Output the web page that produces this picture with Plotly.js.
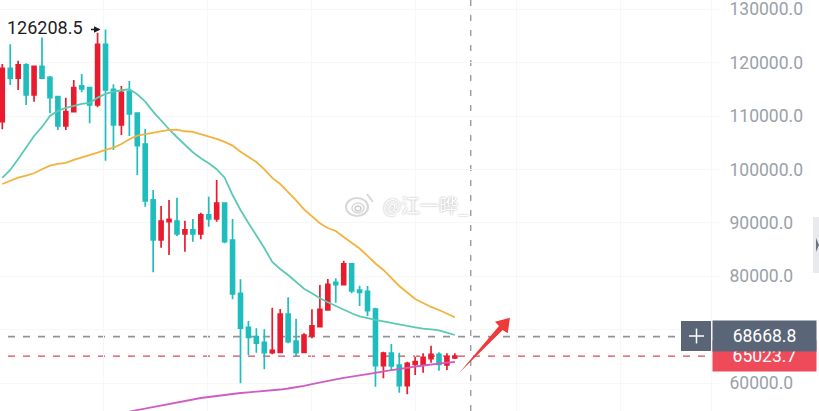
<!DOCTYPE html>
<html>
<head>
<meta charset="utf-8">
<script src="https://cdn.plot.ly/plotly-3.0.1.min.js"></script>
<style>
  html, body { margin: 0; padding: 0; background: #fff; overflow: hidden; }
</style>
</head>
<body>
<div id="chart"></div>
<script>
"use strict";

// Candles
var open = [108940,118940,117070,119560,113940,119320,117260,113620,108140,110810,
  115630,115310,112070,123440,115010,108320,114560,110520,104760,94280,
  86780,90210,90340,87910,88660,87910,91470,90720,93710,86780,
  76800,70430,68670,67620,65680,65750,72920,67870,65750,68800,
  70550,73670,78860,78410,82290,77420,77180,73860,63240,65620,
  63370,59490,63500,63500,64550,65380,63370,64680]
var close = [118940,117070,119560,113940,119320,117070,113440,108140,110810,115310,
  115070,112070,123440,114880,108320,114450,110380,104450,94090,86780,
  90340,90660,87910,88660,87910,91470,90720,93710,86470,76670,
  70250,68560,67440,65680,66120,72920,67740,65680,68990,70680,
  73800,78490,78410,82290,77230,76990,73540,63240,65620,63180,
  59490,63690,63990,64810,65380,63500,64930,65023.7]
var high = [119750,123440,120370,119880,119320,124680,117500,113620,113440,116750,
  117880,115400,125610,126208.5,115950,115630,116570,110630,107570,96150,
  93150,94280,94710,90400,90720,91900,94890,98020,93710,90720,
  79420,71610,70250,70060,74100,73860,76050,72040,69310,73800,
  78360,79480,79610,82910,82420,78220,78170,74100,65860,67300,
  65680,63990,64930,65560,66990,65750,65560,65560]
var low = [107520,115820,114880,112070,112690,116880,110520,107390,107390,110700,
  114450,108640,111640,101640,103640,106450,106260,98960,93020,80730,
  85340,83970,87530,84590,86470,86920,89280,90210,86170,75680,
  59940,65240,65680,62570,65380,65750,67440,64930,65750,68370,
  70550,73540,75040,78300,76800,74420,72550,59310,60880,62430,
  58180,57880,61500,61930,63800,62300,62430,64500]

// Moving averages
var maFast = [98400,99900,101960,104020,106260,107950,110010,110950,111510,111880,
  112260,112440,113440,114130,114560,114820,115010,114070,112690,110810,
  109130,107520,106020,104580,103210,102090,101150,100030,98450,95210,
  92400,89970,87720,85290,82660,81350,80230,78920,77660,76800,
  75860,75120,74420,73670,73060,72490,72120,71800,71560,71240,
  70990,70680,70430,70170,70060,69870,69420,68990]
var maSlow = [97270,97830,98450,98830,99280,100030,100700,101020,101210,101770,
  102200,102700,103140,103640,104070,104760,105650,106320,106580,106830,
  107140,107390,107440,107140,107010,106580,106260,105700,105140,104450,
  103320,102330,101390,99990,98400,97270,95770,94180,92500,91190,
  89910,89030,88470,87350,86220,85190,83790,82380,81170,79570,
  78170,76950,75730,74980,74240,73670,73020,72310]
// starts at candle 16, the earlier part is below the visible range
var maLong = [54660,54940,55220,55500,55790,56070,56440,56720,57000,57190,
  57380,57600,57810,57980,58130,58260,58370,58500,58610,58780,
  58970,59180,59480,59810,60060,60410,60690,60970,61240,61500,
  61720,61910,62170,62430,62660,62880,63070,63280,63480,63650,
  63800,63930]
var maLongStart = 16

var priceTicks = [60000,70000,80000,90000,100000,110000,120000,130000]
var gridSlots = [12.8,25.9,39,52,64.7,77.8]
var lastPrice = 65023.7
var crossPrice = 68668.8
var crossSlot = 59
var highLabel = "126208.5"
var watermark = "@江一晔_"

var slots = open.map(function(v, i){ return i })

// Helpers for the things placed on the page itself (tags, arrow, watermark)
var plotW = 711
var plotH = 411
function px(x){ return x / plotW }
function py(y){ return 1 - y / plotH }
function box(x0, y0, x1, y1, color){
  return {type: "rect", xref: "paper", yref: "paper", layer: "above",
    x0: px(x0), x1: px(x1), y0: py(y0), y1: py(y1),
    fillcolor: color, line: {width: 0}}
}
function stroke(x0, y0, x1, y1, color, width){
  return {type: "line", xref: "paper", yref: "paper", layer: "above",
    x0: px(x0), x1: px(x1), y0: py(y0), y1: py(y1),
    line: {color: color, width: width}}
}
function ring(x0, y0, x1, y1, color, width){
  return {type: "circle", xref: "paper", yref: "paper", layer: "below",
    x0: px(x0), x1: px(x1), y0: py(y0), y1: py(y1),
    line: {color: color, width: width}}
}
function poly(points, color){
  var d = points.map(function(p, i){
    return (i ? "L" : "M") + px(p[0]) + "," + py(p[1])
  }).join(" ") + " Z"
  return {type: "path", xref: "paper", yref: "paper", layer: "above", path: d,
    fillcolor: color, line: {width: 0}}
}

var candles = {
  type: "candlestick",
  x: slots, open: open, high: high, low: low, close: close,
  whiskerwidth: 0,
  increasing: {line: {color: "#e81c2e", width: 1.7}, fillcolor: "#e81c2e"},
  decreasing: {line: {color: "#1fbdbd", width: 1.7}, fillcolor: "#1fbdbd"},
  hoverinfo: "skip",
  showlegend: false
}
function maTrace(x, y, color){
  return {type: "scatter", mode: "lines", x: x, y: y,
    line: {color: color, width: 1.8}, hoverinfo: "skip", showlegend: false}
}

var layout = {
  width: 819,
  height: 411,
  margin: {l: 0, r: 108, t: 0, b: 0, pad: 0},
  paper_bgcolor: "#ffffff",
  plot_bgcolor: "#ffffff",
  font: {family: "Roboto, sans-serif"},
  showlegend: false,
  xaxis: {
    range: [-0.29, 89.26],
    rangeslider: {visible: false},
    tickmode: "array",
    tickvals: gridSlots,
    showticklabels: false,
    ticks: "",
    showgrid: true,
    gridcolor: "#f6f7f8",
    gridwidth: 1,
    zeroline: false,
    showline: false
  },
  yaxis: {
    side: "right",
    range: [54757, 131723],
    tickmode: "array",
    tickvals: priceTicks,
    tickformat: ".1f",
    ticks: "outside",
    ticklen: 7,
    tickcolor: "#f6f7f8",
    ticklabelstandoff: 7,
    ticklabeloverflow: "allow",
    tickfont: {family: "Roboto, sans-serif", size: 17.5, color: "#9aa1a9"},
    showgrid: true,
    gridcolor: "#f6f7f8",
    gridwidth: 1,
    zeroline: false,
    showline: true,
    linecolor: "#f6f7f8",
    linewidth: 1
  },
  shapes: [
    // price and crosshair lines
    {type: "line", layer: "below", xref: "paper", yref: "y", x0: px(8), x1: 1,
      y0: lastPrice, y1: lastPrice, line: {color: "#d8485c", width: 1.2, dash: "7px,8px"}},
    {type: "line", layer: "below", xref: "paper", yref: "y", x0: px(8), x1: px(681),
      y0: crossPrice, y1: crossPrice, line: {color: "#8f959e", width: 1.8, dash: "7px,8px"}},
    {type: "line", layer: "below", xref: "x", yref: "paper", x0: crossSlot, x1: crossSlot,
      y0: 0, y1: 1, line: {color: "#8f959e", width: 1.3, dash: "6px,9px"}},
    // crosshair button
    box(681, 321, 711, 351, "#5a6678"),
    stroke(689, 336, 704, 336, "#ffffff", 1.5),
    stroke(696.5, 328.5, 696.5, 343.5, "#ffffff", 1.5),
    // hand drawn arrow
    poly([[459.3,372.7],[499,326],[495,321.7],[510,317.7],[507.7,333.3],[502.7,330]], "#f0393a"),
    // scroll handle on the right edge
    box(813, 217, 819, 273, "#e8eaed"),
    poly([[816,238],[819,245],[816,252]], "#6b7280"),
    // watermark logo
    ring(346, 198, 368, 216, "#d8d8d8", 2),
    ring(352, 203, 364, 213, "#d8d8d8", 1.5),
    ring(355, 206, 361, 211, "#cfcfcf", 1.5),
    stroke(367, 194, 373, 202, "#d8d8d8", 2)
  ],
  annotations: [
    {xref: "paper", yref: "paper", x: px(5), y: py(27), xanchor: "left", yanchor: "middle",
      text: highLabel, showarrow: false,
      font: {family: "Roboto, sans-serif", size: 18, color: "#1c1c22"}},
    // small arrow from the label to the high
    {xref: "paper", yref: "paper", x: px(100.5), y: py(29.5), text: "", showarrow: true,
      axref: "pixel", ayref: "pixel", ax: -11, ay: 0,
      arrowhead: 2, arrowsize: 1, arrowwidth: 1.3, arrowcolor: "#1c1c22", standoff: 0},
    {xref: "paper", yref: "paper", x: px(381), y: py(205), xanchor: "left", yanchor: "middle",
      text: watermark, showarrow: false,
      font: {family: "Noto Sans CJK SC, sans-serif", size: 19, color: "#ffffff",
        shadow: "0px 0px 2px #9a9a9a"}},
    // last price tag, partly covered by the crosshair tag
    {xref: "paper", yref: "paper", x: px(764.5), y: py(356), xanchor: "center", yanchor: "middle",
      text: lastPrice.toFixed(1), showarrow: false, width: 103, height: 30, borderpad: 0,
      bgcolor: "#ee4a5a", font: {family: "Roboto, sans-serif", size: 17.5, color: "#ffffff"}},
    {xref: "paper", yref: "paper", x: px(764.5), y: py(336), xanchor: "center", yanchor: "middle",
      text: crossPrice.toFixed(1), showarrow: false, width: 103, height: 30, borderpad: 0,
      bgcolor: "#5a6678", font: {family: "Roboto, sans-serif", size: 17.5, color: "#ffffff"}}
  ]
}

Plotly.newPlot("chart", [
  candles,
  maTrace(slots, maFast, "#5cc9b5"),
  maTrace(slots, maSlow, "#f2b33d"),
  maTrace(slots.slice(maLongStart), maLong, "#cf5cc2")
], layout, {displayModeBar: false, staticPlot: true})
</script>
</body>
</html>
